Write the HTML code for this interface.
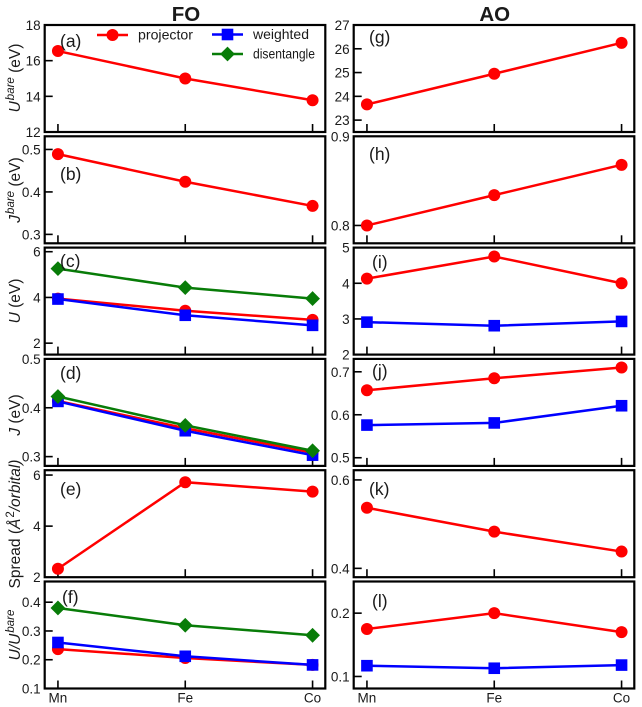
<!DOCTYPE html>
<html>
<head>
<meta charset="utf-8">
<title>FO and AO chart</title>
<style>
html,body{margin:0;padding:0;background:#fff;width:642px;height:707px;overflow:hidden}
svg{display:block}
text{font-family:"Liberation Sans",sans-serif;fill:#1a1a1a}
</style>
</head>
<body>
<svg id="chart" xmlns="http://www.w3.org/2000/svg" width="642" height="707" viewBox="0 0 642 707"></svg>
<script>
const categories = ['Mn', 'Fe', 'Co'];

const panelAProjector = [16.54, 15.0, 13.78];
const panelBProjector = [0.489, 0.424, 0.367];
const panelCProjector = [3.95, 3.42, 3.02];
const panelCWeighted = [3.93, 3.22, 2.78];
const panelCDisentangle = [5.26, 4.43, 3.95];
const panelDProjector = [0.414, 0.358, 0.308];
const panelDWeighted = [0.413, 0.353, 0.303];
const panelDDisentangle = [0.423, 0.364, 0.312];
const panelEProjector = [2.33, 5.72, 5.35];
const panelFProjector = [0.237, 0.206, 0.182];
const panelFWeighted = [0.26, 0.212, 0.182];
const panelFDisentangle = [0.38, 0.32, 0.285];
const panelGProjector = [23.66, 24.95, 26.25];
const panelHProjector = [0.8, 0.834, 0.868];
const panelIProjector = [4.13, 4.75, 4.0];
const panelIWeighted = [2.91, 2.81, 2.93];
const panelJProjector = [0.657, 0.685, 0.71];
const panelJWeighted = [0.576, 0.581, 0.621];
const panelKProjector = [0.537, 0.483, 0.438];
const panelLProjector = [0.175, 0.2, 0.17];
const panelLWeighted = [0.117, 0.113, 0.118];

const panelATicks = ['12', '14', '16', '18'];
const panelBTicks = ['0.3', '0.4', '0.5'];
const panelCTicks = ['2', '4', '6'];
const panelDTicks = ['0.3', '0.4', '0.5'];
const panelETicks = ['2', '4', '6'];
const panelFTicks = ['0.1', '0.2', '0.3', '0.4'];
const panelGTicks = ['23', '24', '25', '26', '27'];
const panelHTicks = ['0.8', '0.9'];
const panelITicks = ['2', '3', '4', '5'];
const panelJTicks = ['0.5', '0.6', '0.7'];
const panelKTicks = ['0.4', '0.6'];
const panelLTicks = ['0.1', '0.2'];

const panelADomain = [12, 18];
const panelBDomain = [0.279, 0.531];
const panelCDomain = [1.5, 6.18];
const panelDDomain = [0.281, 0.5];
const panelEDomain = [2, 6.19];
const panelFDomain = [0.1, 0.472];
const panelGDomain = [22.5, 27];
const panelHDomain = [0.78, 0.9];
const panelIDomain = [2, 5];
const panelJDomain = [0.481, 0.73];
const panelKDomain = [0.38, 0.622];
const panelLDomain = [0.081, 0.25];

const xDomain = [-0.104, 2.1];

const svg = document.getElementById('chart');
const NS = 'http://www.w3.org/2000/svg';
const COLOR = {projector: '#ff0000', weighted: '#0000ff', disentangle: '#087c08'};

function mk(tag, attrs, parent) {
  const el = document.createElementNS(NS, tag);
  for (const k in attrs) el.setAttribute(k, attrs[k]);
  (parent || svg).appendChild(el);
  return el;
}

function drawMarker(kind, cx, cy, parent) {
  let el;
  if (kind === 'projector') {
    el = mk('circle', {cx: cx, cy: cy, r: 6, fill: COLOR[kind]}, parent);
  } else if (kind === 'weighted') {
    el = mk('rect', {x: cx - 5.8, y: cy - 5.8, width: 11.6, height: 11.6, fill: COLOR[kind]}, parent);
  } else {
    const d = 7.4;
    el = mk('polygon', {points: (cx - d) + ',' + cy + ' ' + cx + ',' + (cy - d) + ' ' + (cx + d) + ',' + cy + ' ' + cx + ',' + (cy + d), fill: COLOR[kind]}, parent);
  }
  
  
  return el;
}

function drawPanel(id, col, row, domain, ticks, seriesList, letter, letterX, letterY, showX) {
  const left = col === 0 ? 44.7 : 353.7;
  const width = 280.6;
  const top = 25 + row * 111.3;
  const height = 107;
  const xScale = function (i) { return left + (i - xDomain[0]) / (xDomain[1] - xDomain[0]) * width; };
  const yScale = function (v) { return top + height - (v - domain[0]) / (domain[1] - domain[0]) * height; };

  const g = mk('g', {});
  
  

  ticks.forEach(function (label) {
    const y = yScale(parseFloat(label));
    const tick = mk('line', {x1: left, x2: left + 8, y1: y, y2: y, stroke: '#000', 'stroke-width': 1.6}, g);
    
    
    const t = mk('text', {x: left - 4, y: y + 5, 'text-anchor': 'end', 'font-size': 13.5}, g);
    
    
    t.textContent = label;
  });

  categories.forEach(function (name, i) {
    const x = xScale(i);
    const tick = mk('line', {x1: x, x2: x, y1: top + height, y2: top + height - 8, stroke: '#000', 'stroke-width': 1.6}, g);
    
    
    if (showX) {
      const t = mk('text', {x: x, y: top + height + 14, 'text-anchor': 'middle', 'font-size': 13.5}, g);
      
      
      t.textContent = name;
    }
  });

  seriesList.forEach(function (s) {
    const pts = s.values.map(function (v, i) { return xScale(i) + ',' + yScale(v); }).join(' ');
    const line = mk('polyline', {points: pts, fill: 'none', stroke: COLOR[s.kind], 'stroke-width': 2.5}, g);
    
    
    s.values.forEach(function (v, i) { drawMarker(s.kind, xScale(i), yScale(v), g); });
  });

  const frame = mk('rect', {x: left, y: top, width: width, height: height, fill: 'none', stroke: '#000', 'stroke-width': 2.2}, g);
  
  

  const lab = mk('text', {x: letterX, y: letterY, 'font-size': 17.5}, g);
  
  
  lab.textContent = letter;
}

drawPanel('a', 0, 0, panelADomain, panelATicks, [{kind: 'projector', values: panelAProjector}], '(a)', 60, 47, false);
drawPanel('b', 0, 1, panelBDomain, panelBTicks, [{kind: 'projector', values: panelBProjector}], '(b)', 60, 180, false);
drawPanel('c', 0, 2, panelCDomain, panelCTicks, [{kind: 'projector', values: panelCProjector}, {kind: 'weighted', values: panelCWeighted}, {kind: 'disentangle', values: panelCDisentangle}], '(c)', 60, 267, false);
drawPanel('d', 0, 3, panelDDomain, panelDTicks, [{kind: 'projector', values: panelDProjector}, {kind: 'weighted', values: panelDWeighted}, {kind: 'disentangle', values: panelDDisentangle}], '(d)', 60, 379, false);
drawPanel('e', 0, 4, panelEDomain, panelETicks, [{kind: 'projector', values: panelEProjector}], '(e)', 60, 495, false);
drawPanel('f', 0, 5, panelFDomain, panelFTicks, [{kind: 'projector', values: panelFProjector}, {kind: 'weighted', values: panelFWeighted}, {kind: 'disentangle', values: panelFDisentangle}], '(f)', 62, 603, true);
drawPanel('g', 1, 0, panelGDomain, panelGTicks, [{kind: 'projector', values: panelGProjector}], '(g)', 369, 43, false);
drawPanel('h', 1, 1, panelHDomain, panelHTicks, [{kind: 'projector', values: panelHProjector}], '(h)', 369, 160, false);
drawPanel('i', 1, 2, panelIDomain, panelITicks, [{kind: 'projector', values: panelIProjector}, {kind: 'weighted', values: panelIWeighted}], '(i)', 372, 268, false);
drawPanel('j', 1, 3, panelJDomain, panelJTicks, [{kind: 'projector', values: panelJProjector}, {kind: 'weighted', values: panelJWeighted}], '(j)', 372, 377, false);
drawPanel('k', 1, 4, panelKDomain, panelKTicks, [{kind: 'projector', values: panelKProjector}], '(k)', 369, 495, false);
drawPanel('l', 1, 5, panelLDomain, panelLTicks, [{kind: 'projector', values: panelLProjector}, {kind: 'weighted', values: panelLWeighted}], '(l)', 372, 607, true);

function columnTitle(label, x, name) {
  const t = mk('text', {x: x, y: 21, 'text-anchor': 'middle', 'font-size': 20.5, 'font-weight': 'bold'});
  
  
  t.textContent = label;
}
columnTitle('FO', 186, 'fo-column-title');
columnTitle('AO', 494.7, 'ao-column-title');

function yLabel(cy, name, parts) {
  const t = mk('text', {transform: 'translate(20,' + cy + ') rotate(-90)', 'text-anchor': 'middle', 'font-size': 15.5});
  
  
  parts.forEach(function (p) {
    const s = mk('tspan', {}, t);
    if (p.italic) s.setAttribute('font-style', 'italic');
    if (p.sup) { s.setAttribute('font-size', '11.5'); s.setAttribute('dy', '-6'); s.setAttribute('dx', '1'); }
    if (p.after) s.setAttribute('dy', '6');
    s.textContent = p.text;
  });
}
yLabel(78, 'y-axis-title-u-bare', [{text: 'U', italic: true}, {text: 'bare', italic: true, sup: true}, {text: ' (eV)', after: true}]);
yLabel(190, 'y-axis-title-j-bare', [{text: 'J', italic: true}, {text: 'bare', italic: true, sup: true}, {text: ' (eV)', after: true}]);
yLabel(301, 'y-axis-title-u', [{text: 'U', italic: true}, {text: ' (eV)'}]);
yLabel(415, 'y-axis-title-j', [{text: 'J', italic: true}, {text: ' (eV)'}]);
yLabel(524, 'y-axis-title-spread', [{text: 'Spread ('}, {text: 'Å', italic: true}, {text: '2', sup: true}, {text: '/orbital)', italic: true, after: true}]);
yLabel(635, 'y-axis-title-u-ratio', [{text: 'U/U', italic: true}, {text: 'bare', italic: true, sup: true}]);

function legendEntry(kind, x, y, textX, textWidth) {
  const g = mk('g', {});
  
  
  const l = mk('line', {x1: x, x2: x + 31, y1: y, y2: y, stroke: COLOR[kind], 'stroke-width': 2.5}, g);
  
  
  drawMarker(kind, x + 15.5, y, g);
  const t = mk('text', {x: textX, y: y + 4.5, 'font-size': 14, textLength: textWidth, lengthAdjust: 'spacingAndGlyphs'}, g);
  
  
  t.textContent = kind;
}
legendEntry('projector', 97, 35, 138, 55);
legendEntry('weighted', 212, 34.5, 253, 56);
legendEntry('disentangle', 212, 54, 253, 62);
</script>
</body>
</html>
